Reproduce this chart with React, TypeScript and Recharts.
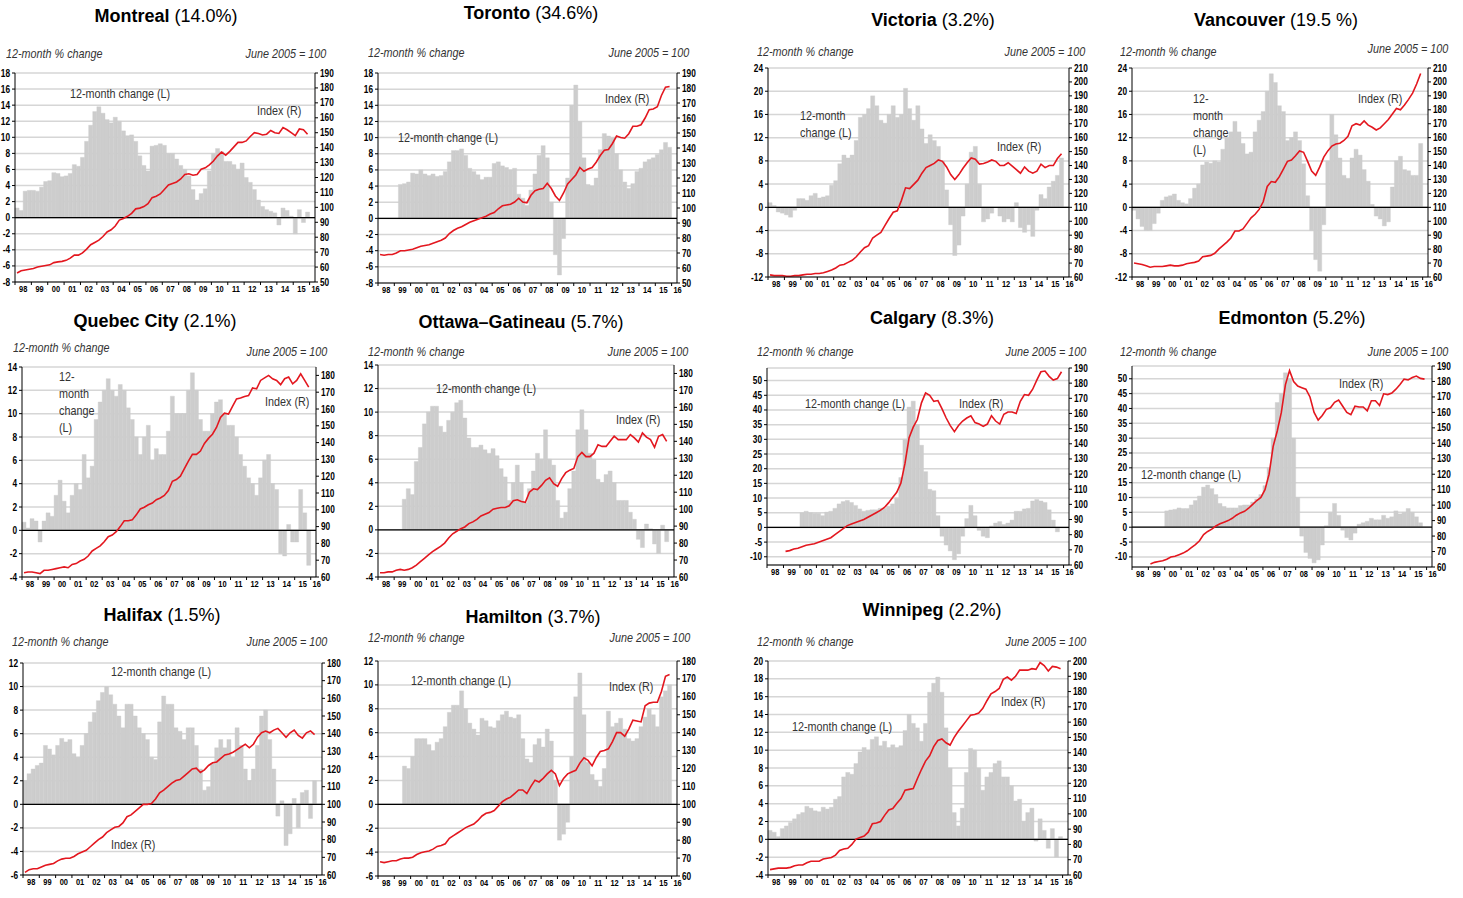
import React from 'react';
import { ComposedChart, Bar, Line, XAxis, YAxis, CartesianGrid, ReferenceLine } from 'recharts';

const FONT = '"Liberation Sans", Arial, sans-serif';
const SQUEEZE = 0.83;

// quarters 1998Q1 .. 2015Q4
const years = [1998, 1999, 2000, 2001, 2002, 2003, 2004, 2005, 2006, 2007, 2008, 2009, 2010, 2011, 2012, 2013, 2014, 2015];
const quarterOffsets = [0.125, 0.375, 0.625, 0.875];
const yearTicks = [1998, 1999, 2000, 2001, 2002, 2003, 2004, 2005, 2006, 2007, 2008, 2009, 2010, 2011, 2012, 2013, 2014, 2015, 2016];

const ticksM8to18 = [-8, -6, -4, -2, 0, 2, 4, 6, 8, 10, 12, 14, 16, 18];
const ticksM12to24 = [-12, -8, -4, 0, 4, 8, 12, 16, 20, 24];
const ticksM4to14 = [-4, -2, 0, 2, 4, 6, 8, 10, 12, 14];
const ticksM10to50 = [-10, -5, 0, 5, 10, 15, 20, 25, 30, 35, 40, 45, 50];
const ticksM6to12 = [-6, -4, -2, 0, 2, 4, 6, 8, 10, 12];
const ticksM4to20 = [-4, -2, 0, 2, 4, 6, 8, 10, 12, 14, 16, 18, 20];
const ticks50to190 = [50, 60, 70, 80, 90, 100, 110, 120, 130, 140, 150, 160, 170, 180, 190];
const ticks60to210 = [60, 70, 80, 90, 100, 110, 120, 130, 140, 150, 160, 170, 180, 190, 200, 210];
const ticks60to180 = [60, 70, 80, 90, 100, 110, 120, 130, 140, 150, 160, 170, 180];
const ticks60to190 = [60, 70, 80, 90, 100, 110, 120, 130, 140, 150, 160, 170, 180, 190];
const ticks60to200 = [60, 70, 80, 90, 100, 110, 120, 130, 140, 150, 160, 170, 180, 190, 200];

const montrealChange = [
  1.2, 0.9, 3.3, 3.4, 3.4, 3.3, 3.8, 4.5, 4.6, 5.6, 5.5, 5.1, 5.2, 5.5, 6.6, 6.4,
  7.5, 9.5, 11.5, 13.2, 13.8, 13.0, 12.2, 11.8, 12.5, 12.0, 10.8, 10.2, 10.3, 9.5, 7.7, 6.5,
  5.8, 8.9, 9.0, 9.2, 9.0, 8.0, 8.0, 7.3, 6.5, 6.0, 5.2, 3.5, 2.2, 3.0, 3.6, 5.8,
  8.0, 8.6, 8.2, 7.0, 7.0, 6.6, 6.0, 6.8, 5.0, 4.4, 3.5, 2.2, 1.4, 1.0, 0.8, 0.6,
  -0.9, 1.2, 0.9, 0.2, -2.0, 1.0, -0.6, 0.7,
];
const montrealIndex = [
  56, 57.5, 58, 58.5, 59, 60, 60.5, 61, 61.5, 63, 63.5, 63.8, 64.5, 66, 68, 68,
  69.5, 72, 75, 76.5, 78, 80.5, 83.5, 85, 87.5, 91.5, 92.5, 94, 96, 99, 99.5, 100.5,
  102.5, 106.5, 107.5, 109, 112, 115, 116, 117, 119, 122, 122.5, 121.5, 122, 125.5, 126.5, 128.5,
  131, 134.5, 137, 135, 137.5, 140.5, 143.5, 143.5, 144.5, 147.5, 150, 149.5, 148.5, 149, 151.5, 150,
  149.5, 153.5, 152, 150, 148, 152.5, 152, 149,
];

const torontoChange = [
  null, null, null, null, null, 4.2, 4.3, 4.5, 5.6, 5.5, 6.0, 5.5, 5.3, 5.5, 5.2, 5.3,
  5.8, 7.0, 8.4, 8.4, 8.6, 7.8, 6.2, 5.8, 5.4, 4.8, 5.1, 5.1, 6.8, 7.0, 6.5, 6.3,
  6.0, 6.2, 3.0, 2.5, 1.6, 3.5, 5.5, 7.8, 9.0, 7.5, 2.0, -4.5, -7.0, -2.5, 5.0, 14.0,
  16.5, 12.0, 7.5, 4.2, 4.0, 5.0, 8.5, 10.5, 10.2, 10.0, 8.0, 6.0, 4.5, 3.7, 4.3, 5.8,
  6.2, 7.0, 7.3, 7.5, 7.9, 8.5, 9.4, 8.8,
];
const torontoIndex = [
  69, 68.5, 69, 69, 70, 71.5, 71.5, 72, 72.5, 73.5, 74.5, 75, 75.5, 76.5, 77.5, 78.5,
  80, 83, 85, 86.5, 87.5, 89, 90.5, 91.5, 92.5, 93.5, 94.5, 96, 97, 99.5, 101.5, 102,
  102.5, 104, 106.5, 104, 103.5, 108.5, 111.5, 112.5, 113, 116.5, 113, 108, 105, 110, 116, 119,
  122, 127, 124.5, 126, 127, 130.5, 135, 138.5, 139, 143, 148, 147, 146.5, 149.5, 154.5, 154.5,
  155.5, 160, 165.5, 166, 167.5, 175, 180.5, 181,
];

const victoriaChange = [
  0.8, 0.3, -0.8, -1.0, -1.3, -1.7, -0.5, 1.5, 1.5, 1.2, 2.0, 2.4, 1.6, 1.8, 2.0, 3.8,
  4.6, 7.5, 9.0, 8.5, 9.0, 11.5, 15.5, 16.0, 17.0, 19.2, 17.5, 15.0, 14.5, 16.0, 17.5, 15.5,
  16.0, 20.5, 17.0, 15.0, 17.5, 13.5, 11.0, 12.5, 11.5, 10.5, 8.0, 3.0, -3.0, -8.3, -6.5, -1.5,
  4.0, 9.5, 10.5, 4.0, -2.5, -2.0, -1.0, 0.0, -1.5, -2.5, -2.0, -2.5, 0.8, -3.5, -4.3, -3.0,
  -5.0, -0.5, 2.2, 1.5, 3.5, 4.5, 5.5, 8.5,
];
const victoriaIndex = [
  61.5, 61, 61, 61, 60.5, 60.5, 61, 61, 61.5, 62, 62, 62.5, 62.5, 63, 64, 65,
  66.5, 68.5, 69, 70.5, 72, 74.5, 78, 81, 82.5, 88, 90, 92, 97, 102, 106.5, 107.5,
  115, 124, 123.5, 126.5, 129.5, 134.5, 138.5, 140, 141.5, 144, 143, 139, 133.5, 130, 133.5, 138,
  142, 145.5, 144.5, 141, 141.5, 142.5, 144, 143, 140, 140, 142, 139.5, 137, 134.5, 139, 136,
  134.5, 136, 141, 138.5, 140, 140, 145, 148.5,
];

const vancouverChange = [
  -0.5, -2.0, -3.3, -4.0, -4.0, -2.8, -1.0, 1.2, 1.8, 2.0, 2.3, 1.2, 0.8, 0.6, 1.5, 3.3,
  4.0, 7.3, 7.8, 7.6, 8.0, 7.8, 10.0, 12.0, 13.0, 14.8, 13.0, 11.0, 9.2, 9.5, 13.0, 15.0,
  16.5, 20.0, 23.0, 21.5, 17.5, 16.5, 11.5, 12.0, 13.0, 11.5, 7.5, 2.0, -4.0, -9.0, -11.0, -3.0,
  8.0, 16.0, 12.5, 8.5, 5.5, 5.0, 8.5, 10.0, 9.0, 6.5, 4.5, 0.5, -1.5, -2.0, -3.2, -2.5,
  3.5, 8.0, 8.8, 6.5, 6.3, 5.5, 5.5, 11.0,
];
const vancouverIndex = [
  70, 69.5, 69, 68, 67, 67.5, 67.5, 67.5, 68, 68.5, 68, 68, 68.5, 69.5, 70, 70.5,
  71.5, 74.5, 75, 75.5, 77, 80, 82.5, 85, 88, 93, 93, 94.5, 98.5, 102.5, 105, 108.5,
  114, 125, 128.5, 128, 132, 137.5, 143, 144, 147, 150.5, 149.5, 143, 136, 133, 139, 146,
  150.5, 154, 155.5, 156, 158, 161, 168.5, 170, 169, 172, 169, 167.5, 165.5, 167, 170, 173,
  177, 181, 180, 183.5, 187.5, 192, 198.5, 206,
];

const quebecChange = [
  0.7, 0.2, 1.0, 0.8, -1.0, 0.8, 1.5, 1.2, 3.0, 4.3, 2.5, 1.5, 3.0, 4.0, 3.5, 6.5,
  4.5, 5.5, 9.5, 11.0, 12.0, 13.0, 12.0, 11.5, 12.5, 12.0, 10.5, 9.5, 8.0, 6.5, 8.0, 9.0,
  6.0, 7.0, 6.5, 6.5, 8.5, 11.5, 10.0, 10.0, 10.0, 12.0, 13.5, 12.0, 9.5, 8.5, 8.5, 10.0,
  11.0, 11.2, 10.0, 9.0, 9.0, 8.0, 6.5, 5.5, 4.5, 4.0, 3.0, 4.5, 6.0, 6.5, 4.0, 3.5,
  -2.0, -2.2, 0.5, -1.0, -1.0, 3.5, 1.5, -3.0,
];
const quebecIndex = [
  62.5, 63, 63, 62.5, 62, 64, 64, 64.5, 65, 65.5, 66, 65.5, 67.5, 68, 69.5, 70.5,
  72.5, 75.5, 77, 78.5, 81, 84, 85, 87, 90, 93.5, 93.5, 94, 97, 100.5, 101.5, 103,
  104, 106, 107, 108.5, 111.5, 117, 118, 120, 124.5, 129, 133, 133, 135, 139.5, 142.5, 145,
  149, 155, 157.5, 157, 161.5, 166, 166.5, 167.5, 168, 172.5, 172, 177, 178.5, 180, 178, 177,
  174.5, 178, 179, 175, 177, 181, 177, 173,
];

const ottawaChange = [
  null, null, null, null, null, null, 2.6, 3.5, 3.0, 5.8, 7.0, 9.0, 10.0, 10.5, 10.5, 8.8,
  8.3, 9.3, 10.0, 10.8, 11.0, 9.5, 7.8, 7.0, 7.0, 7.2, 6.8, 6.5, 6.9, 6.3, 5.2, 4.5,
  2.5, 4.0, 5.5, 4.0, 2.3, 3.5, 5.0, 6.5, 6.0, 8.5, 6.0, 5.5, 2.5, 1.0, 1.5, 3.5,
  5.0, 8.5, 10.2, 8.5, 6.5, 6.0, 4.3, 4.0, 4.7, 5.0, 4.0, 2.5, 2.5, 2.5, 1.5, 0.9,
  -0.8, -1.5, 0.5, 0.1, -1.2, -2.0, 0.4, -1.0,
];
const ottawaIndex = [
  62.5, 62.5, 63, 63, 64, 64.5, 64, 64.5, 65.5, 67, 69, 71, 73, 75, 76.5, 78,
  80, 83, 85.5, 87, 88.5, 89.5, 91.5, 92.5, 94, 96, 97, 98, 100, 100.5, 101, 101,
  102, 105, 105.5, 104.5, 104, 110, 112, 111.5, 114, 117, 118.5, 115, 113.5, 118, 121.5, 123,
  124, 131, 133.5, 131, 131, 133, 138, 137, 137, 140, 143, 141, 141, 141, 144, 142,
  139.5, 145, 142.5, 141, 136.5, 143, 144, 140,
];

const calgaryChange = [
  null, null, null, null, null, null, null, null, 5.0, 5.5, 5.0, 4.8, 4.8, 4.0, 5.2, 5.5,
  6.5, 8.0, 8.8, 9.2, 8.5, 7.5, 6.3, 5.5, 5.8, 6.0, 6.0, 6.5, 6.5, 7.2, 8.0, 10.0,
  17.0, 30.0, 41.0, 43.0, 35.0, 28.0, 19.0, 13.0, 12.5, 4.0, -3.0, -6.0, -8.0, -11.0, -9.0, -3.0,
  3.0, 7.5, 4.0, -1.0, -3.0, -3.5, 0.5, 1.5, 2.0, 1.0, 1.5, 2.5, 5.5, 5.5, 6.3, 6.5,
  9.0, 9.5, 9.0, 8.5, 6.0, 2.5, -1.5, 0.0,
];
const calgaryIndex = [
  null, null, null, null, 69, 69.5, 70.5, 71, 72, 73, 73.5, 74, 75, 76, 77, 78,
  80, 82, 84, 86, 87, 88, 89, 90, 91.5, 93, 94.5, 96, 98, 101, 104.5, 108,
  114, 127, 144, 151, 156, 167, 173.5, 172, 168, 168.5, 163, 157, 152, 148, 152, 155,
  157, 158.5, 154, 153, 151.5, 153, 158.5, 155, 153, 159.5, 161, 161, 160, 168, 172.5, 172,
  176, 182, 187.5, 188, 184.5, 182, 183, 187.5,
];

const edmontonChange = [
  null, null, null, null, null, null, null, null, 5.5, 5.8, 6.0, 6.5, 6.3, 6.3, 7.5, 9.0,
  10.5, 13.5, 14.2, 13.0, 11.0, 8.0, 7.0, 6.5, 6.5, 6.5, 7.3, 7.5, 7.5, 8.5, 9.5, 11.0,
  14.0, 20.0, 30.0, 42.0, 45.0, 52.0, 50.0, 30.0, 10.0, -3.0, -8.5, -10.5, -12.0, -11.0, -6.0, 0.5,
  5.0, 8.0, 4.0, -1.0, -3.5, -4.3, -2.0, 1.0, 1.5, 2.0, 3.0, 2.5, 2.5, 4.0, 3.0, 3.5,
  5.5, 4.5, 5.0, 6.3, 5.0, 3.5, 1.5, 0.0,
];
const edmontonIndex = [
  null, null, null, null, 62, 63, 63.5, 64, 65, 66.5, 67, 68, 69, 70.5, 72.5, 74.5,
  77, 81, 83, 84.5, 86.5, 88, 89, 90, 91.5, 93.5, 95, 96, 98, 100.5, 103, 105,
  110, 120, 138, 148, 160, 178, 187, 180, 177, 176, 175, 170, 160, 155, 158, 162,
  163, 166.5, 168, 164, 160, 158.5, 164, 163.5, 163.5, 161, 167.5, 167.5, 164.5, 172, 171.5, 172.5,
  175, 178, 181.5, 181, 182.5, 183.5, 182, 181.5,
];

const halifaxChange = [
  2.0, 2.6, 3.0, 3.3, 3.5, 5.0, 4.7, 4.2, 5.0, 5.6, 5.3, 5.5, 4.3, 4.0, 5.0, 6.0,
  7.0, 7.8, 8.8, 9.5, 10.0, 9.3, 8.5, 7.5, 6.5, 8.5, 8.5, 7.5, 6.5, 6.0, 5.5, 4.0,
  3.8, 7.0, 9.2, 8.5, 8.5, 6.5, 6.2, 5.5, 6.5, 6.5, 5.0, 3.0, 1.2, 1.5, 3.5, 4.8,
  5.5, 4.8, 5.5, 4.0, 6.5, 5.0, 3.0, 2.0, 3.0, 5.0, 7.5, 8.0, 5.5, 3.0, -1.0, 0.3,
  -3.5, -2.5, 0.5, -2.0, 1.0, 1.2, -1.2, 2.0,
];
const halifaxIndex = [
  61.5, 63, 63.5, 63.5, 64.5, 65.5, 66, 66.5, 68, 69, 69.5, 69.5, 70.5, 72, 73, 74,
  76, 78, 80, 81.5, 84, 85.5, 87, 87.5, 89.5, 93, 94, 96, 98, 100, 100, 100.5,
  103, 106.5, 108, 110, 112, 113.5, 114, 116, 118, 120, 120.5, 118, 119.5, 122, 123.5, 124,
  126, 128, 128.5, 129.5, 131, 132.5, 134, 132, 134, 138, 140.5, 141.5, 140.5, 142, 143, 140.5,
  138, 140.5, 142, 139, 137.5, 140.5, 141.5, 139.5,
];

const hamiltonChange = [
  null, null, null, null, null, null, 3.2, 3.0, 4.0, 5.5, 5.5, 5.5, 5.0, 4.5, 5.2, 5.5,
  6.5, 7.7, 8.3, 8.3, 9.5, 8.0, 6.8, 6.3, 5.8, 7.2, 7.0, 6.5, 6.4, 7.0, 7.5, 7.8,
  7.3, 7.2, 7.5, 5.5, 3.8, 3.5, 5.0, 5.5, 4.8, 6.3, 5.3, 2.0, -3.0, -2.5, -1.5, 4.0,
  9.0, 11.0, 7.5, 3.5, 2.5, 2.0, 1.5, 3.0, 7.8, 6.5, 6.8, 7.2, 6.3, 5.5, 5.3, 5.5,
  6.5, 7.3, 8.0, 7.5, 6.5, 9.0, 9.5, 10.0,
];
const hamiltonIndex = [
  68, 67.5, 68, 68.5, 68.5, 69.5, 70, 70, 70.5, 72, 73, 73.5, 74, 75, 76.5, 77,
  78, 81, 82.5, 84, 85.5, 87, 88, 89, 91, 93.5, 95, 95.5, 96.5, 99, 101.5, 103,
  104, 106, 108, 108, 106, 110, 113.5, 112.5, 114.5, 117, 119, 117, 110.5, 114.5, 117, 118,
  119, 123, 126, 124.5, 121.5, 126, 129.5, 130, 131, 135, 140, 140, 138, 142, 147, 146.5,
  146, 155, 156.5, 157, 157, 163, 171.5, 172.5,
];

const winnipegChange = [
  1.0, 0.8, 0.3, 1.2, 1.5, 1.9, 2.3, 2.8, 3.0, 3.7, 3.5, 3.2, 3.1, 3.6, 3.4, 3.6,
  4.5, 4.8, 7.0, 7.5, 7.3, 8.5, 9.8, 10.3, 10.0, 11.2, 11.5, 10.5, 11.0, 10.3, 10.6, 10.3,
  10.5, 12.2, 14.0, 13.0, 12.5, 11.0, 13.0, 16.5, 17.5, 18.2, 16.5, 12.5, 8.0, 3.0, 1.5, 3.5,
  7.5, 10.2, 10.0, 8.0, 5.5, 7.0, 7.5, 8.5, 8.8, 7.0, 7.0, 6.0, 4.3, 4.5, 2.0, 3.0,
  3.5, -0.2, 2.3, 1.0, -1.0, 1.2, -2.0, 0.3,
];
const winnipegIndex = [
  63.5, 64, 64.5, 64.5, 64.5, 65, 66, 66.5, 66.5, 68, 69, 69, 69, 70.5, 71, 71.5,
  73, 76, 77, 77.5, 80, 83.5, 84.5, 85.5, 88, 93.5, 94, 95, 99, 102.5, 103.5, 107,
  110, 115.5, 116, 116.5, 123, 129, 134.5, 138, 144, 148, 149, 146.5, 145, 150, 154, 157.5,
  161, 164.5, 165, 166, 169, 174, 178.5, 180, 182, 188, 189.5, 187.5, 190, 194, 194, 194,
  195, 194.5, 199, 197, 193.5, 196.5, 196, 195,
];

type Note = { text: string; x: number; y: number };
type PanelCfg = {
  name: string;
  pct: string;
  left: number;
  right: number;
  top: number;
  bottom: number;
  lDomain: [number, number];
  lTicks: number[];
  rDomain: [number, number];
  rTicks: number[];
  change: (number | null)[];
  index: (number | null)[];
  titleX: number;
  titleY: number;
  subX: number;
  subY: number;
  baseX: number;
  baseY: number;
  notes: Note[];
};

const panels: PanelCfg[] = [
  {
    name: 'Montreal', pct: '(14.0%)', left: 15, right: 315, top: 73, bottom: 282,
    lDomain: [-8, 18], lTicks: ticksM8to18, rDomain: [50, 190], rTicks: ticks50to190,
    change: montrealChange, index: montrealIndex,
    titleX: 166, titleY: 16, subX: 6, subY: 54, baseX: 326, baseY: 54,
    notes: [{ text: '12-month change (L)', x: 70, y: 93 }, { text: 'Index (R)', x: 257, y: 110 }],
  },
  {
    name: 'Toronto', pct: '(34.6%)', left: 378, right: 677, top: 73, bottom: 283,
    lDomain: [-8, 18], lTicks: ticksM8to18, rDomain: [50, 190], rTicks: ticks50to190,
    change: torontoChange, index: torontoIndex,
    titleX: 531, titleY: 13, subX: 368, subY: 53, baseX: 689, baseY: 53,
    notes: [{ text: 'Index (R)', x: 605, y: 98 }, { text: '12-month change (L)', x: 398, y: 137 }],
  },
  {
    name: 'Victoria', pct: '(3.2%)', left: 768, right: 1069, top: 68, bottom: 277,
    lDomain: [-12, 24], lTicks: ticksM12to24, rDomain: [60, 210], rTicks: ticks60to210,
    change: victoriaChange, index: victoriaIndex,
    titleX: 933, titleY: 20, subX: 757, subY: 52, baseX: 1085, baseY: 52,
    notes: [{ text: '12-month\nchange (L)', x: 800, y: 115 }, { text: 'Index (R)', x: 997, y: 146 }],
  },
  {
    name: 'Vancouver', pct: '(19.5 %)', left: 1132, right: 1428, top: 68, bottom: 277,
    lDomain: [-12, 24], lTicks: ticksM12to24, rDomain: [60, 210], rTicks: ticks60to210,
    change: vancouverChange, index: vancouverIndex,
    titleX: 1276, titleY: 20, subX: 1120, subY: 52, baseX: 1448, baseY: 49,
    notes: [{ text: '12-\nmonth\nchange\n(L)', x: 1193, y: 98 }, { text: 'Index (R)', x: 1358, y: 98 }],
  },
  {
    name: 'Quebec City', pct: '(2.1%)', left: 22, right: 316, top: 367, bottom: 577,
    lDomain: [-4, 14], lTicks: ticksM4to14, rDomain: [60, 185], rTicks: ticks60to180,
    change: quebecChange, index: quebecIndex,
    titleX: 155, titleY: 321, subX: 13, subY: 348, baseX: 327, baseY: 352,
    notes: [{ text: '12-\nmonth\nchange\n(L)', x: 59, y: 376 }, { text: 'Index (R)', x: 265, y: 401 }],
  },
  {
    name: 'Ottawa–Gatineau', pct: '(5.7%)', left: 378, right: 674, top: 365, bottom: 577,
    lDomain: [-4, 14], lTicks: ticksM4to14, rDomain: [60, 185], rTicks: ticks60to180,
    change: ottawaChange, index: ottawaIndex,
    titleX: 521, titleY: 322, subX: 368, subY: 352, baseX: 688, baseY: 352,
    notes: [{ text: '12-month change (L)', x: 436, y: 388 }, { text: 'Index (R)', x: 616, y: 419 }],
  },
  {
    name: 'Calgary', pct: '(8.3%)', left: 767, right: 1069, top: 368, bottom: 565,
    lDomain: [-12.8, 54.3], lTicks: ticksM10to50, rDomain: [60, 190], rTicks: ticks60to190,
    change: calgaryChange, index: calgaryIndex,
    titleX: 932, titleY: 318, subX: 757, subY: 352, baseX: 1086, baseY: 352,
    notes: [{ text: '12-month change (L)', x: 805, y: 403 }, { text: 'Index (R)', x: 959, y: 403 }],
  },
  {
    name: 'Edmonton', pct: '(5.2%)', left: 1132, right: 1432, top: 366, bottom: 567,
    lDomain: [-13.4, 54.3], lTicks: ticksM10to50, rDomain: [60, 190], rTicks: ticks60to190,
    change: edmontonChange, index: edmontonIndex,
    titleX: 1292, titleY: 318, subX: 1120, subY: 352, baseX: 1448, baseY: 352,
    notes: [{ text: 'Index (R)', x: 1339, y: 383 }, { text: '12-month change (L)', x: 1141, y: 474 }],
  },
  {
    name: 'Halifax', pct: '(1.5%)', left: 23, right: 322, top: 663, bottom: 875,
    lDomain: [-6, 12], lTicks: ticksM6to12, rDomain: [60, 180], rTicks: ticks60to180,
    change: halifaxChange, index: halifaxIndex,
    titleX: 162, titleY: 615, subX: 12, subY: 642, baseX: 327, baseY: 642,
    notes: [{ text: '12-month change (L)', x: 111, y: 671 }, { text: 'Index (R)', x: 111, y: 844 }],
  },
  {
    name: 'Hamilton', pct: '(3.7%)', left: 378, right: 677, top: 661, bottom: 876,
    lDomain: [-6, 12], lTicks: ticksM6to12, rDomain: [60, 180], rTicks: ticks60to180,
    change: hamiltonChange, index: hamiltonIndex,
    titleX: 533, titleY: 617, subX: 368, subY: 638, baseX: 690, baseY: 638,
    notes: [{ text: '12-month change (L)', x: 411, y: 680 }, { text: 'Index (R)', x: 609, y: 686 }],
  },
  {
    name: 'Winnipeg', pct: '(2.2%)', left: 768, right: 1068, top: 661, bottom: 875,
    lDomain: [-4, 20], lTicks: ticksM4to20, rDomain: [60, 200], rTicks: ticks60to200,
    change: winnipegChange, index: winnipegIndex,
    titleX: 932, titleY: 610, subX: 757, subY: 642, baseX: 1086, baseY: 642,
    notes: [{ text: '12-month change (L)', x: 792, y: 726 }, { text: 'Index (R)', x: 1001, y: 701 }],
  },
];

const quarterX = years.flatMap((y) => quarterOffsets.map((q) => y + q));
const X_END = 2016.33;

// narrow-looking bold numbers: Arial squeezed horizontally
const NumText = ({ x, y, anchor, size, children }: any) => (
  <text
    transform={`translate(${x},${y}) scale(${SQUEEZE},1)`}
    textAnchor={anchor}
    dy="0.35em"
    fontSize={size}
    fontWeight={700}
    fontFamily={FONT}
    fill="#000"
  >
    {children}
  </text>
);

const YearTick = (props: any) => {
  const { x, y, payload, yearW } = props;
  const v = payload.value as number;
  const cx = v === 2016 ? x + 6 : x + yearW / 2;
  return (
    <NumText x={cx} y={y + 2} anchor="middle" size={9}>
      {String(v).slice(2)}
    </NumText>
  );
};

const ValueTick = (props: any) => {
  const { x, y, payload, textAnchor } = props;
  return (
    <NumText x={x} y={y} anchor={textAnchor} size={10}>
      {payload.value}
    </NumText>
  );
};

const squeezed = (origin: string): React.CSSProperties => ({
  display: 'inline-block',
  transform: `scaleX(${SQUEEZE})`,
  transformOrigin: origin,
});

const Panel = ({ p }: { p: PanelCfg }) => {
  const w = p.right - p.left;
  const h = p.bottom - p.top;
  const yearW = w / (X_END - 1998);
  const band = yearW / 4;
  const rows = quarterX.map((x, i) => ({ x, change: p.change[i], index: p.index[i] }));

  return (
    <>
      <div
        style={{
          position: 'absolute', left: p.titleX - 160, top: p.titleY - 11, width: 320, height: 22,
          lineHeight: '22px', textAlign: 'center', fontSize: 18, fontFamily: FONT, color: '#000', whiteSpace: 'nowrap',
        }}
      >
        <span style={{ fontWeight: 700 }}>{p.name}</span> {p.pct}
      </div>
      <div
        style={{
          position: 'absolute', left: p.subX, top: p.subY - 8, lineHeight: '16px', fontSize: 13,
          fontStyle: 'italic', fontFamily: FONT, color: '#333', whiteSpace: 'nowrap',
        }}
      >
        <span style={squeezed('left')}>12-month % change</span>
      </div>
      <div
        style={{
          position: 'absolute', left: p.baseX - 200, width: 200, top: p.baseY - 8, lineHeight: '16px', fontSize: 13,
          fontStyle: 'italic', fontFamily: FONT, color: '#333', textAlign: 'right', whiteSpace: 'nowrap',
        }}
      >
        <span style={squeezed('right')}>June 2005 = 100</span>
      </div>
      <div style={{ position: 'absolute', left: p.left - 40, top: p.top - 10 }}>
        <ComposedChart width={w + 80} height={h + 35} data={rows} margin={{ top: 10, right: 0, bottom: 0, left: 0 }}>
          <CartesianGrid yAxisId="left" vertical={false} stroke="#d6d6d6" strokeWidth={1.5} />
          <XAxis
            dataKey="x"
            type="number"
            domain={[1998, X_END]}
            ticks={yearTicks}
            interval={0}
            height={25}
            tickSize={3}
            stroke="#000"
            tick={(tp: any) => <YearTick {...tp} yearW={yearW} />}
          />
          <YAxis
            yAxisId="left"
            domain={p.lDomain}
            ticks={p.lTicks}
            interval={0}
            width={40}
            tickSize={3}
            tickMargin={2}
            stroke="#000"
            tick={ValueTick}
          />
          <YAxis
            yAxisId="right"
            orientation="right"
            domain={p.rDomain}
            ticks={p.rTicks}
            interval={0}
            width={40}
            tickSize={3}
            tickMargin={2}
            stroke="#000"
            tick={ValueTick}
          />
          <Bar
            yAxisId="left"
            dataKey="change"
            fill="#cdcdcd"
            stroke="#cdcdcd"
            strokeWidth={0.4}
            barSize={band * 0.999}
            isAnimationActive={false}
          />
          <ReferenceLine yAxisId="left" y={0} stroke="#000" strokeWidth={1.2} />
          <Line
            yAxisId="right"
            dataKey="index"
            type="linear"
            stroke="#e3171f"
            strokeWidth={1.6}
            dot={false}
            isAnimationActive={false}
          />
        </ComposedChart>
      </div>
      {p.notes.map((n, i) => (
        <div
          key={i}
          style={{
            position: 'absolute', left: n.x, top: n.y - 8.5, lineHeight: '17px', fontSize: 13,
            fontFamily: FONT, color: '#333', whiteSpace: 'nowrap',
          }}
        >
          {n.text.split('\n').map((line, j) => (
            <div key={j}>
              <span style={squeezed('left')}>{line}</span>
            </div>
          ))}
        </div>
      ))}
    </>
  );
};

export default function App() {
  return (
    <div style={{ position: 'absolute', left: 0, top: 0, width: 1463, height: 898, background: '#fff' }}>
      {panels.map((p) => (
        <Panel key={p.name} p={p} />
      ))}
    </div>
  );
}
